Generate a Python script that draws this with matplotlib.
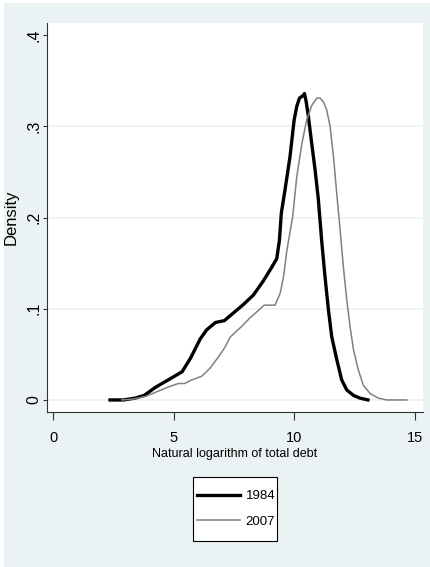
import matplotlib
matplotlib.use('Agg')
import matplotlib.pyplot as plt
from matplotlib.patches import Rectangle
from matplotlib.ticker import FixedLocator

plt.rcParams['font.family'] = ['Liberation Sans', 'DejaVu Sans']

# kernel density estimates
x_1984 = [2.36, 2.91, 3.40, 3.78, 4.25, 4.71, 5.35, 5.70, 6.10, 6.37, 6.73, 7.10,
          7.50, 7.90, 8.30, 8.70, 9.05, 9.27, 9.38, 9.46, 9.61, 9.82, 9.99, 10.10,
          10.21, 10.37, 10.42, 10.49, 10.58, 10.72, 10.86, 10.99, 11.13, 11.27,
          11.41, 11.55, 11.76, 11.96, 12.17, 12.45, 12.72, 13.05]
d_1984 = [0.0, 0.0, 0.002, 0.005, 0.014, 0.021, 0.031, 0.046, 0.067, 0.077, 0.085,
          0.087, 0.096, 0.105, 0.115, 0.130, 0.145, 0.155, 0.175, 0.205, 0.230,
          0.267, 0.307, 0.322, 0.331, 0.334, 0.336, 0.327, 0.311, 0.281, 0.252,
          0.221, 0.175, 0.135, 0.099, 0.069, 0.044, 0.022, 0.011, 0.005, 0.002, 0.0]

x_2007 = [2.85, 3.33, 3.85, 4.30, 4.85, 5.19, 5.45, 5.75, 6.16, 6.51, 6.85, 7.13,
          7.34, 7.75, 8.16, 8.50, 8.75, 9.20, 9.41, 9.55, 9.69, 9.93, 10.10, 10.31,
          10.51, 10.72, 10.93, 11.07, 11.20, 11.34, 11.48, 11.62, 11.76, 11.89,
          12.03, 12.17, 12.31, 12.45, 12.65, 12.86, 13.14, 13.48, 13.83, 14.10, 14.66]
d_2007 = [0.0, 0.001, 0.004, 0.009, 0.015, 0.018, 0.018, 0.022, 0.026, 0.035, 0.047,
          0.058, 0.069, 0.079, 0.090, 0.098, 0.104, 0.104, 0.117, 0.135, 0.164,
          0.201, 0.245, 0.281, 0.307, 0.323, 0.331, 0.331, 0.327, 0.318, 0.300,
          0.267, 0.225, 0.188, 0.146, 0.110, 0.080, 0.055, 0.033, 0.016, 0.007,
          0.002, 0.0, 0.0, 0.0]

x_ticks = [0, 5, 10, 15]
y_ticks = [0, 0.1, 0.2, 0.3, 0.4]
y_labels = ['0', '.1', '.2', '.3', '.4']

W, H = 431, 567
bg = '#eaf2f3'
fig = plt.figure(figsize=(W / 100, H / 100), dpi=100, facecolor='white')
fig.patches.append(Rectangle((4 / W, 0), 1, 1 - 3 / H, transform=fig.transFigure,
                             facecolor=bg, edgecolor='none', zorder=-10))

ax = fig.add_axes([47 / W, (H - 412) / H, (423 - 47) / W, (412 - 23) / H])
ax.set_facecolor('white')
ph = 412 - 23  # plot height in px

for y in [0, 0.1, 0.2, 0.3]:
    ax.axhline(y, color=bg, lw=1.2, zorder=0)

l1, = ax.plot(x_1984, d_1984, color='black', lw=2.4, label='1984')
l2, = ax.plot(x_2007, d_2007, color='#808080', lw=1.1, label='2007')

ax.set_xlim(-0.25, 15.33)
ax.set_ylim(-0.0132, 0.4134)
ax.xaxis.set_major_locator(FixedLocator(x_ticks))
ax.set_xticklabels([str(t) for t in x_ticks], fontsize=10.5)
ax.yaxis.set_major_locator(FixedLocator(y_ticks))
ax.set_yticklabels(y_labels, fontsize=11.5, rotation=90, va='center')

for s in ['top', 'right']:
    ax.spines[s].set_visible(False)
for s in ['left', 'bottom']:
    ax.spines[s].set_color('#333333')
    ax.spines[s].set_linewidth(0.8)
ax.tick_params(axis='x', length=5.8, width=0.8, color='#333333', pad=8)
ax.tick_params(axis='y', length=3, width=0.8, color='#333333', pad=1)

ax.set_xlabel('Natural logarithm of total debt', fontsize=9)
ax.xaxis.set_label_coords(0.5, -(448 - 412) / ph)
ax.set_ylabel('Density', fontsize=12)
ax.yaxis.set_label_coords(-(47 - 19) / (423 - 47), 0.5)

# legend frame as in the reference
fig.patches.append(Rectangle((193 / W, (H - 541) / H), 84 / W, 64 / H,
                             transform=fig.transFigure, facecolor='white',
                             edgecolor='black', lw=0.8, zorder=1))
leg = fig.legend(handles=[l1, l2], loc='center',
                 bbox_to_anchor=(236 / W, 1 - 509 / H), fontsize=9.5,
                 frameon=False, handlelength=3.3, handletextpad=0.4,
                 borderpad=0, labelspacing=1.0, borderaxespad=0)
leg.set_zorder(2)

fig.savefig('out.png', dpi=100, facecolor='white')
